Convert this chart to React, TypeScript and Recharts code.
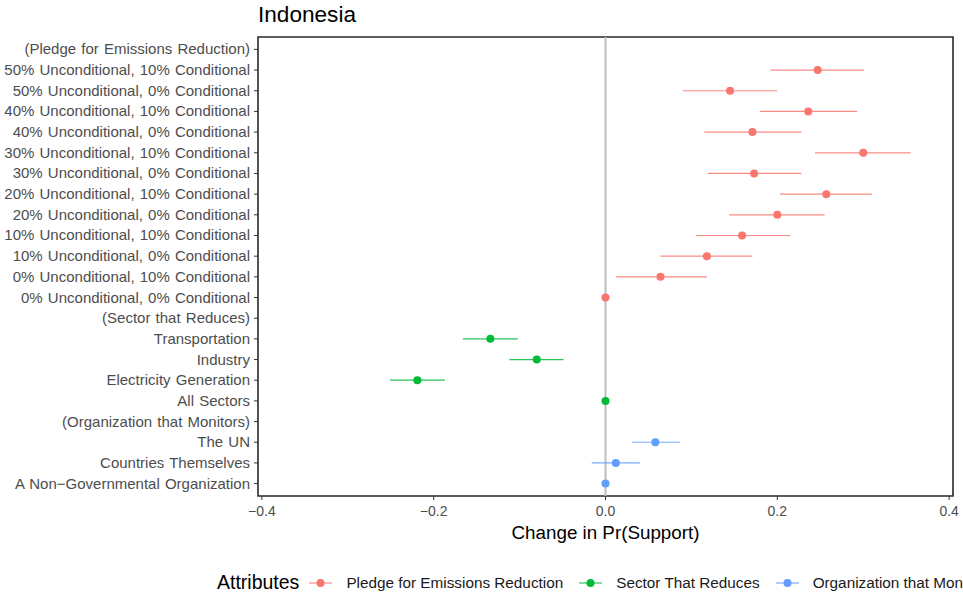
import {
  ComposedChart,
  Scatter,
  ErrorBar,
  XAxis,
  YAxis,
  ReferenceLine,
  ReferenceArea,
  Legend,
} from "recharts";

const pledgeHeader = "(Pledge for Emissions Reduction)";
const pledgeRows = [
  "50% Unconditional, 10% Conditional",
  "50% Unconditional, 0% Conditional",
  "40% Unconditional, 10% Conditional",
  "40% Unconditional, 0% Conditional",
  "30% Unconditional, 10% Conditional",
  "30% Unconditional, 0% Conditional",
  "20% Unconditional, 10% Conditional",
  "20% Unconditional, 0% Conditional",
  "10% Unconditional, 10% Conditional",
  "10% Unconditional, 0% Conditional",
  "0% Unconditional, 10% Conditional",
  "0% Unconditional, 0% Conditional",
];
const pledgeEst = [0.247, 0.145, 0.236, 0.171, 0.3, 0.173, 0.257, 0.2, 0.159, 0.118, 0.064, 0];
const pledgeLow = [0.192, 0.09, 0.18, 0.115, 0.244, 0.119, 0.203, 0.144, 0.105, 0.064, 0.012, 0];
const pledgeHigh = [0.301, 0.2, 0.293, 0.228, 0.355, 0.228, 0.31, 0.255, 0.215, 0.171, 0.118, 0];

const sectorHeader = "(Sector that Reduces)";
const sectorRows = ["Transportation", "Industry", "Electricity Generation", "All Sectors"];
const sectorEst = [-0.134, -0.08, -0.219, 0];
const sectorLow = [-0.166, -0.112, -0.251, 0];
const sectorHigh = [-0.102, -0.049, -0.187, 0];

const orgHeader = "(Organization that Monitors)";
const orgRows = ["The UN", "Countries Themselves", "A Non\u2212Governmental Organization"];
const orgEst = [0.058, 0.012, 0];
const orgLow = [0.031, -0.016, 0];
const orgHigh = [0.087, 0.04, 0];

const xTicks = [-0.4, -0.2, 0, 0.2, 0.4];

const allRows = [pledgeHeader, ...pledgeRows, sectorHeader, ...sectorRows, orgHeader, ...orgRows];
const X_DOMAIN: [number, number] = [-0.4045, 0.4045];
const Y_DOMAIN: [number, number] = [-0.6, allRows.length - 1 + 0.6];

const series = [
  { name: "Pledge for Emissions Reduction", color: "#F8766D", rows: pledgeRows, est: pledgeEst, low: pledgeLow, high: pledgeHigh },
  { name: "Sector That Reduces", color: "#00BA38", rows: sectorRows, est: sectorEst, low: sectorLow, high: sectorHigh },
  { name: "Organization that Monitors", color: "#619CFF", rows: orgRows, est: orgEst, low: orgLow, high: orgHigh },
];

const build = (s: (typeof series)[number]) =>
  s.rows.map((r, i) => ({
    x: s.est[i],
    y: allRows.indexOf(r),
    err: [s.est[i] - s.low[i], s.high[i] - s.est[i]],
  }));

const font = "'Liberation Sans', Arial, Helvetica, sans-serif";

const YTick = (props: any) => {
  const { x, y, payload } = props;
  return (
    <text
      x={x}
      y={y}
      dx={-2}
      dy={5}
      textAnchor="end"
      fill="#4D4D4D"
      fontSize={15}
      fontFamily={font}
      wordSpacing={1}
    >
      {allRows[payload.value]}
    </text>
  );
};

const fmtX = (v: number) => (v < 0 ? "\u2212" + Math.abs(v).toFixed(1) : v.toFixed(1));

const renderLegend = () => (
  <div style={{ display: "flex", alignItems: "center", fontFamily: font, whiteSpace: "nowrap" }}>
    <span style={{ fontSize: 19.5, color: "#000", marginRight: 10 }}>Attributes</span>
    {series.map((s) => (
      <span key={s.name} style={{ display: "inline-flex", alignItems: "center", marginRight: 16 }}>
        <svg width={23} height={12} style={{ marginRight: 14 }}>
          <line x1={0} x2={23} y1={6} y2={6} stroke={s.color} strokeWidth={1} />
          <circle cx={11.5} cy={6} r={4} fill={s.color} />
        </svg>
        <span style={{ fontSize: 15.3, color: "#1a1a1a" }}>{s.name}</span>
      </span>
    ))}
  </div>
);

export default function App() {
  return (
    <div style={{ position: "absolute", left: 0, top: 0, width: 963, height: 599, overflow: "hidden", background: "#fff" }}>
      <div style={{ position: "absolute", left: 258, top: 2, fontFamily: font, fontSize: 22.6, color: "#000" }}>
        Indonesia
      </div>
      <ComposedChart
        width={963}
        height={599}
        layout="horizontal"
        margin={{ top: 37, right: 10, bottom: 37, left: 0 }}
      >
        <XAxis
          type="number"
          dataKey="x"
          domain={X_DOMAIN}
          ticks={xTicks}
          allowDataOverflow
          tickFormatter={fmtX}
          tick={{ fontSize: 14, fill: "#4D4D4D", fontFamily: font, dy: 4 }}
          tickSize={4}
          tickLine={{ stroke: "#333" }}
          axisLine={false}
          height={66}
          label={{
            value: "Change in Pr(Support)",
            position: "insideBottom",
            offset: 23,
            fontSize: 18.8,
            fill: "#000",
            fontFamily: font,
          }}
        />
        <YAxis
          type="number"
          dataKey="y"
          domain={Y_DOMAIN}
          reversed
          ticks={allRows.map((_, i) => i)}
          interval={0}
          allowDataOverflow
          tick={<YTick />}
          tickSize={4}
          tickLine={{ stroke: "#333" }}
          axisLine={false}
          width={258}
        />
        <ReferenceLine x={0} stroke="#BEBEBE" strokeWidth={2} />
        <ReferenceArea
          x1={X_DOMAIN[0]}
          x2={X_DOMAIN[1]}
          y1={Y_DOMAIN[0]}
          y2={Y_DOMAIN[1]}
          fill="none"
          stroke="#000"
          strokeWidth={1.6}
          strokeOpacity={0.85}
        />
        {series.map((s) => (
          <Scatter
            key={s.name}
            name={s.name}
            data={build(s)}
            fill={s.color}
            isAnimationActive={false}
            shape={(p: any) => <circle cx={p.cx} cy={p.cy} r={4} fill={s.color} />}
          >
            <ErrorBar dataKey="err" direction="x" width={0} stroke={s.color} strokeWidth={1.2} strokeOpacity={0.85} />
          </Scatter>
        ))}
        <Legend
          verticalAlign="middle"
          layout="horizontal"
          content={renderLegend}
          wrapperStyle={{ position: "absolute", left: 217, top: 571, width: 800, height: 26 }}
        />
      </ComposedChart>
    </div>
  );
}
